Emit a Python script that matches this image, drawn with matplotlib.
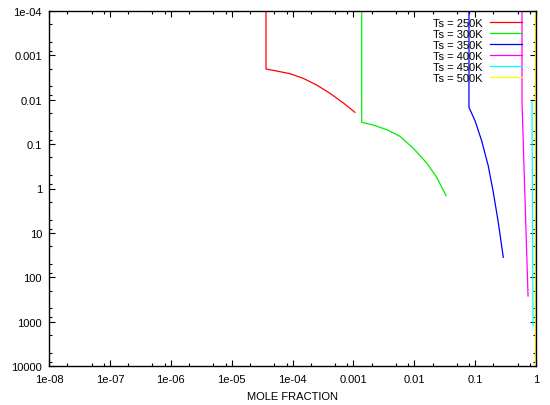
import matplotlib
matplotlib.use("Agg")
import matplotlib.pyplot as plt
from matplotlib.ticker import FixedLocator, FixedFormatter, LogLocator, NullFormatter

plt.rcParams['font.family'] = ['Liberation Sans', 'DejaVu Sans']

labels = ["Ts = 250K", "Ts = 300K", "Ts = 350K", "Ts = 400K", "Ts = 450K", "Ts = 500K"]
colors = ["#ff0000", "#00ee00", "#0000ff", "#ff00ff", "#00ffff", "#ffff00"]

red_x = [3.67e-5, 3.67e-5, 5.50e-5, 9.10e-5, 1.50e-4, 2.50e-4, 4.13e-4, 6.84e-4, 1.06e-3]
red_y = [1e-4, 2.03e-3, 2.25e-3, 2.59e-3, 3.29e-3, 4.66e-3, 7.16e-3, 1.18e-2, 1.92e-2]
green_x = [1.37e-3, 1.37e-3, 2.12e-3, 3.52e-3, 5.83e-3, 9.64e-3, 1.60e-2, 2.34e-2, 3.33e-2]
green_y = [1e-4, 3.22e-2, 3.71e-2, 4.73e-2, 6.67e-2, 0.124, 0.266, 0.560, 1.45]
blue_x = [7.92e-2, 7.92e-2, 9.95e-2, 0.128, 0.164, 0.199, 0.240, 0.290]
blue_y = [1e-4, 1.48e-2, 2.96e-2, 8.38e-2, 0.306, 1.22, 5.78, 35.5]
magenta_x = [0.589, 0.589, 0.66, 0.74]
magenta_y = [1e-4, 0.0112, 1.73, 265]
cyan_x = [0.859, 0.893]
cyan_y = [0.0112, 1256]
yellow_x = [0.95, 0.95]
yellow_y = [1e-4, 8000]

series_x = [red_x, green_x, blue_x, magenta_x, cyan_x, yellow_x]
series_y = [red_y, green_y, blue_y, magenta_y, cyan_y, yellow_y]

xticks = [1e-8, 1e-7, 1e-6, 1e-5, 1e-4, 1e-3, 1e-2, 1e-1, 1]
xticklabels = ["1e-08", "1e-07", "1e-06", "1e-05", "1e-04", "0.001", "0.01", "0.1", "1"]
yticks = [1e-4, 1e-3, 1e-2, 1e-1, 1, 10, 100, 1000, 10000]
yticklabels = ["1e-04", "0.001", "0.01", "0.1", "1", "10", "100", "1000", "10000"]

fig = plt.figure(figsize=(5.5, 4.06), dpi=100)
ax = fig.add_axes([49/550, 1-367/406, (536-49)/550, (367-12)/406])

for x, y, c, l in zip(series_x, series_y, colors, labels):
    ax.plot(x, y, color=c, lw=0.9, label=l)

ax.set_xscale('log')
ax.set_yscale('log')
ax.set_xlim(1e-8, 1)
ax.set_ylim(1e4, 1e-4)

ax.xaxis.set_major_locator(FixedLocator(xticks))
ax.xaxis.set_major_formatter(FixedFormatter(xticklabels))
ax.yaxis.set_major_locator(FixedLocator(yticks))
ax.yaxis.set_major_formatter(FixedFormatter(yticklabels))
ax.xaxis.set_minor_locator(LogLocator(base=10, subs=[2, 5, 8], numticks=20))
ax.yaxis.set_minor_locator(LogLocator(base=10, subs=[2, 5, 8], numticks=20))
ax.xaxis.set_minor_formatter(NullFormatter())
ax.yaxis.set_minor_formatter(NullFormatter())

ax.tick_params(which='both', direction='in', top=True, right=True, width=0.8, labelsize=8)
ax.tick_params(which='major', length=4)
ax.tick_params(which='minor', length=2.2)
ax.tick_params(axis='x', which='major', pad=5.5)
ax.tick_params(axis='y', which='major', pad=5)
for s in ax.spines.values():
    s.set_linewidth(1.0)

ax.set_xlabel("MOLE FRACTION", fontsize=8, labelpad=5)

leg = ax.legend(loc='upper right', bbox_to_anchor=(0.9713, 0.9805), frameon=False,
                markerfirst=False, fontsize=8, handlelength=2.9, handletextpad=0.62,
                labelspacing=0.09, borderaxespad=0, borderpad=0)

fig.savefig("out.png", dpi=100)
